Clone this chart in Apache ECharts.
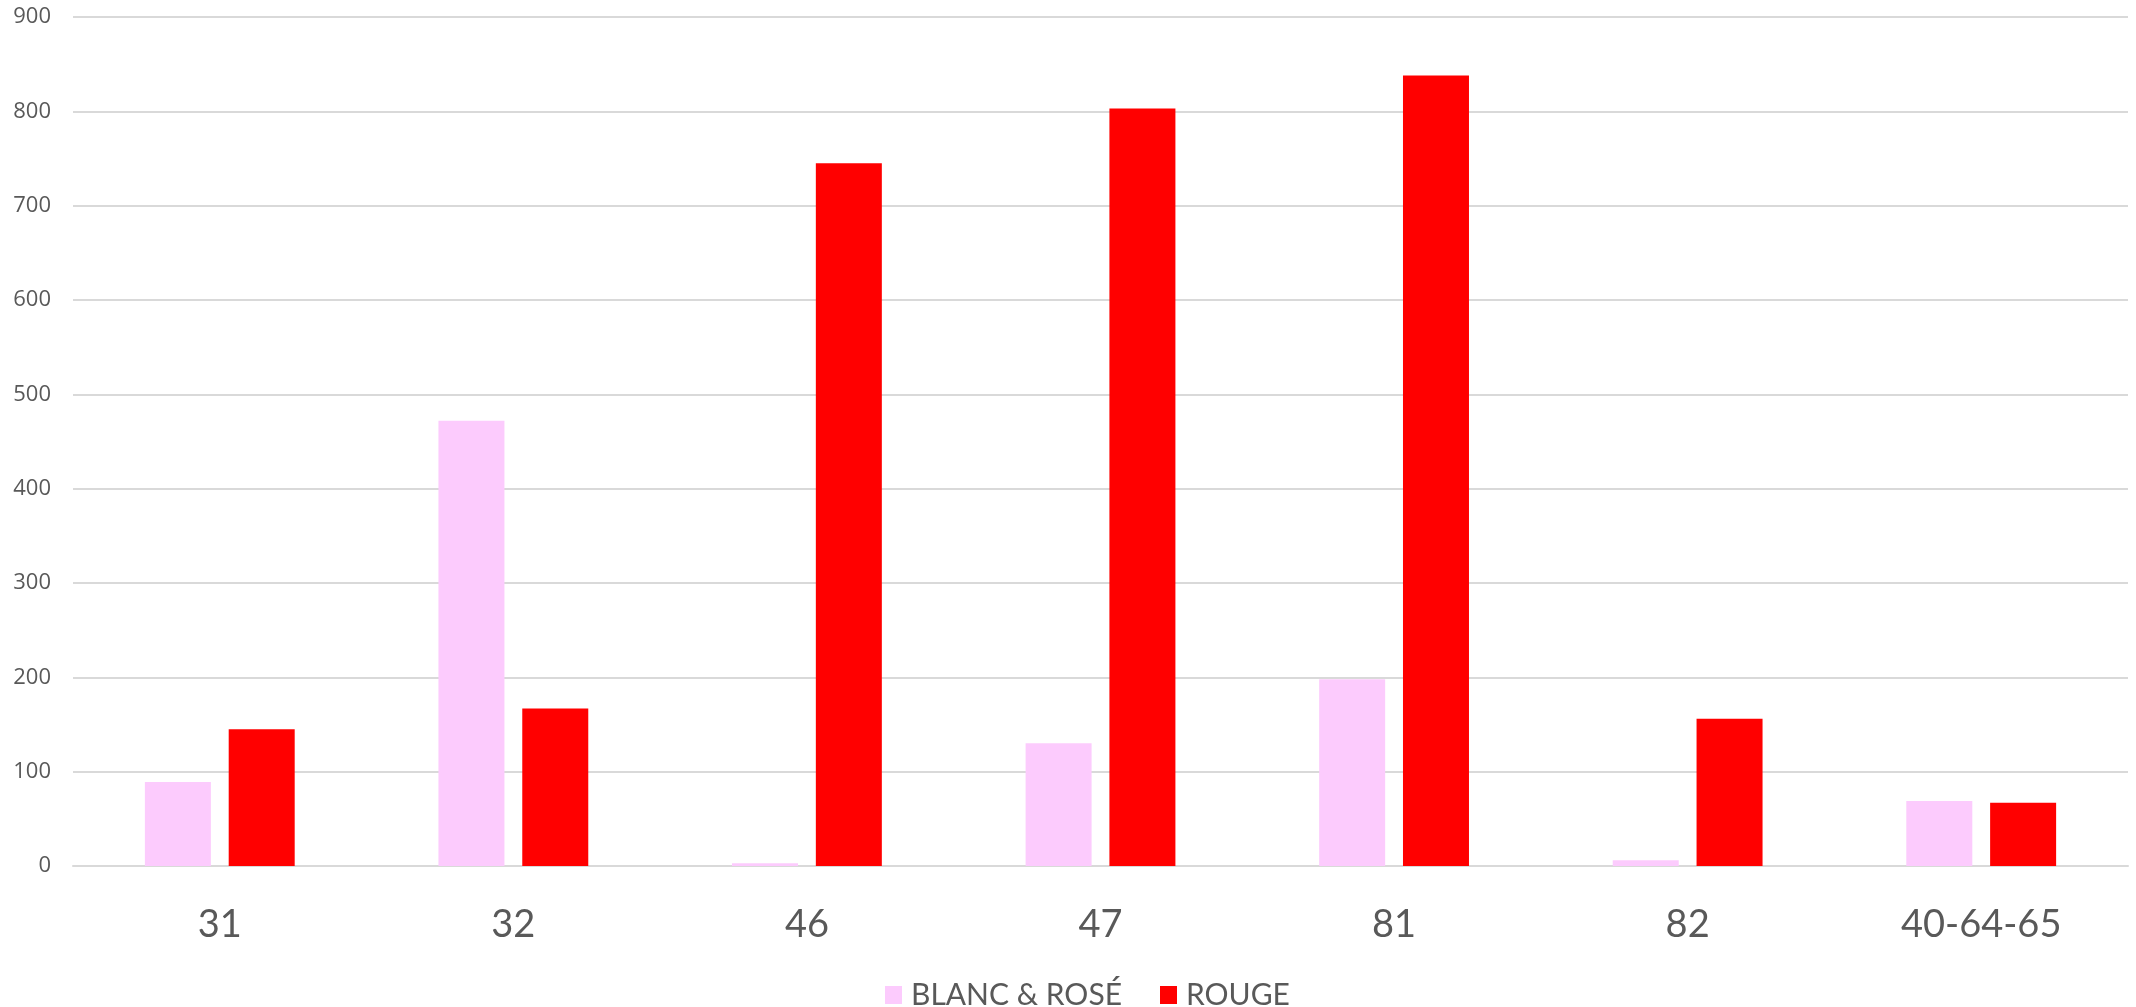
<!DOCTYPE html>
<html><head><meta charset="utf-8">
<script src="https://cdn.jsdelivr.net/npm/echarts@6/dist/echarts.min.js"></script>
<style>html,body{margin:0;padding:0;background:#fff}#c{width:2136px;height:1007px}</style>
</head><body><div id="c"></div>
<script>
const categories = ['31','32','46','47','81','82','40-64-65'];
const blancRose = [89, 472, 3, 130, 198, 6, 69];
const rouge = [145, 167, 745, 803, 838, 156, 67];
const seriesNames = ['BLANC & ROSÉ','ROUGE'];
const yTicks = {min:0, max:900, interval:100};

const chart = echarts.init(document.getElementById('c'));
chart.setOption({
  animation:false,
  grid:{left:73,right:8,top:17,bottom:141,containLabel:false},
  legend:{
    top:975, left:880, itemWidth:17, itemHeight:18, itemGap:38,
    icon:'rect',
    textStyle:{fontFamily:'Lato',fontSize:30,color:'#595959',padding:[0,0,0,4]},
    data:seriesNames
  },
  xAxis:{
    type:'category', data:categories,
    axisLine:{lineStyle:{color:'#d9d9d9',width:2}},
    axisTick:{show:false},
    axisLabel:{fontFamily:'Lato',fontSize:38,color:'#595959',margin:40}
  },
  yAxis:{
    type:'value', min:yTicks.min, max:yTicks.max, interval:yTicks.interval,
    axisLine:{show:false}, axisTick:{show:false},
    splitLine:{lineStyle:{color:'#d9d9d9',width:2}},
    axisLabel:{fontFamily:'Open Sans',fontSize:22,color:'#595959',margin:22}
  },
  series:[
    {name:seriesNames[0],type:'bar',data:blancRose,barWidth:66,barGap:'27%',itemStyle:{color:'#fccbfd'}},
    {name:seriesNames[1],type:'bar',data:rouge,barWidth:66,itemStyle:{color:'#ff0000'}}
  ]
});
</script></body></html>
